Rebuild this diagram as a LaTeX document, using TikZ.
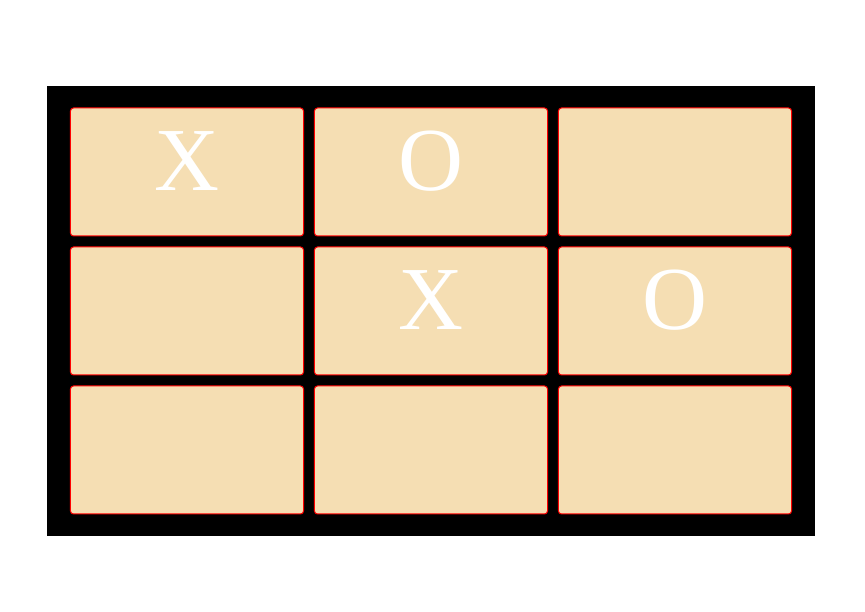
\documentclass[tikz,border=0pt]{standalone}
\usepackage{fontspec}
\setmainfont{Liberation Serif}
\usetikzlibrary{positioning}
\definecolor{boardtan}{HTML}{F5DEB3}

\begin{document}
\begin{tikzpicture}[
			cell/.style={draw=red,fill=boardtan,line width=1pt,rounded corners=3pt,
				minimum width=233pt,minimum height=128pt,inner sep=0pt,
				text=white,font=\fontsize{90}{90}\selectfont,
				text height=59pt,text depth=22pt}]
			\useasboundingbox (0,0) rectangle (865pt,612pt);
			\matrix (board) at (431pt,301pt) [fill=black,inner xsep=23pt,inner ysep=21.5pt,row sep=10pt,column sep=10pt] {
				\node (c11) [cell] {X};
				&
				\node (c12) [cell] {O};
				&
				\node (c13) [cell] {};
				\\
				\node (c21) [cell] {};
				&
				\node (c22) [cell] {X};
				&
				\node (c23) [cell] {O};
				\\
				\node (c31) [cell] {};
				&
				\node (c32) [cell] {};
				&
				\node (c33) [cell] {};
				\\
			};
		\end{tikzpicture}
\end{document}
